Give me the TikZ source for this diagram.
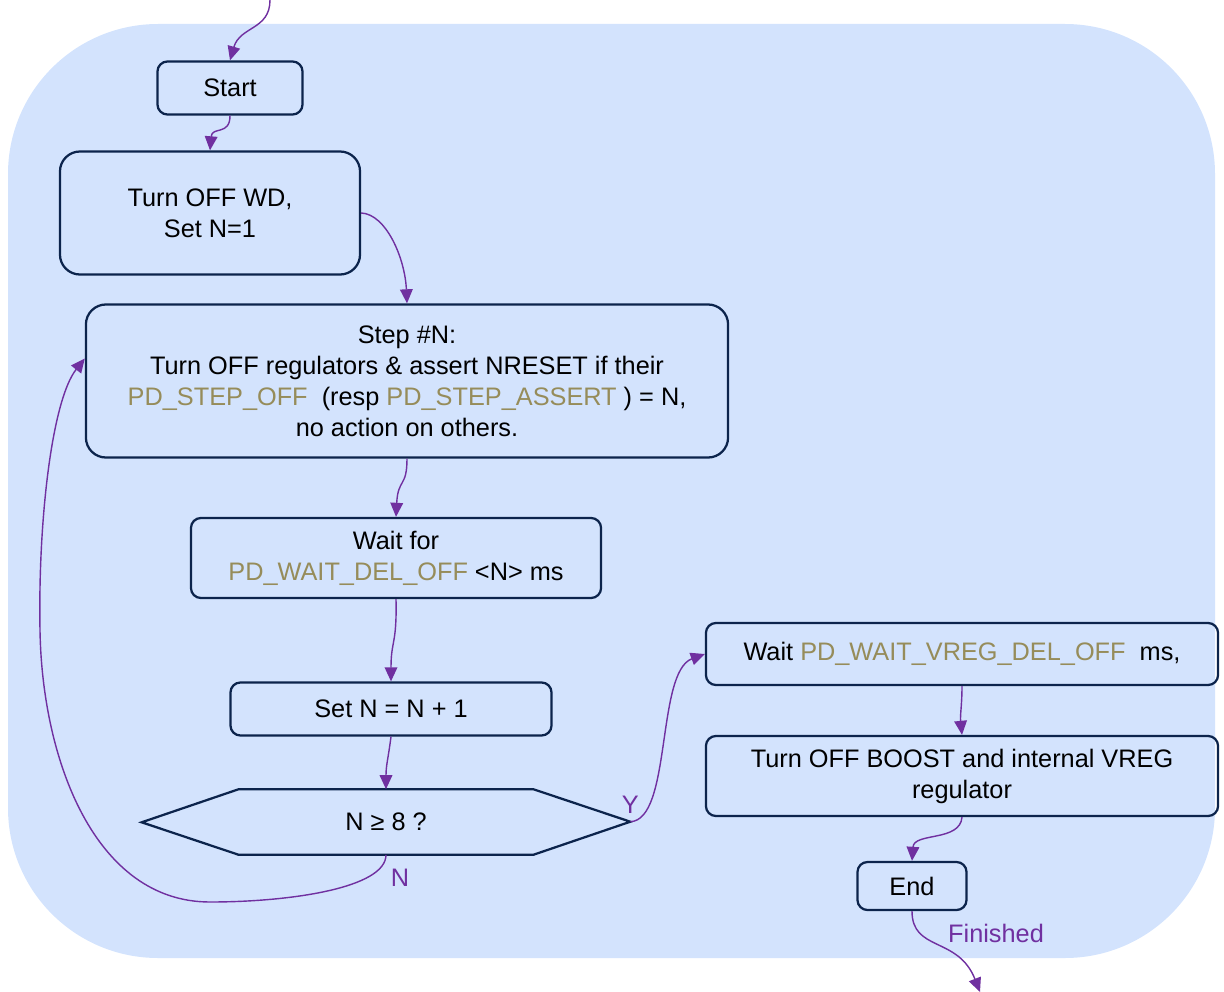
\documentclass[tikz,border=0pt]{standalone}
\usepackage{fontspec}
\setmainfont{Liberation Sans}
\usetikzlibrary{arrows.meta}
\definecolor{bgBlue}{RGB}{211,227,253}
\definecolor{boxLine}{RGB}{12,36,76}
\definecolor{flowPurple}{RGB}{112,48,160}
\definecolor{regOlive}{RGB}{150,140,90}
\tikzstyle{myBox} = [draw=boxLine,line width=1.6pt,rounded corners=0.25cm,align=center,inner sep=0pt]
\tikzstyle{bigBox} = [myBox,rounded corners=0.5cm]
\tikzstyle{myLine} = [draw=flowPurple,line width=1pt,-{Triangle[length=10pt,width=9pt]}]
\tikzstyle{myLabel} = [text=flowPurple]
\newcommand{\reg}[1]{\textcolor{regOlive}{#1}}

\begin{document}
\begin{tikzpicture}[x=0.025cm,y=-0.025cm,font=\fontsize{18}{22}\selectfont]
			\useasboundingbox (0,0) rectangle (1224,992);
			\fill[bgBlue,rounded corners=3.75cm] (8,24) rectangle (1215,958);
			\node[myBox,minimum width=3.625cm,minimum height=1.325cm] (n1) at (230,88) {Start};
			\node[bigBox,minimum width=7.5cm,minimum height=3.075cm] (n2) at (210,213) {Turn OFF WD,\\Set N=1};
			\node[bigBox,minimum width=16.05cm,minimum height=3.825cm] (n3) at (407,381) {Step \#N:\\Turn OFF regulators \& assert NRESET if their\\\reg{PD\_STEP\_OFF}\ \ (resp \reg{PD\_STEP\_ASSERT}\ ) = N,\\no action on others.};
			\node[myBox,minimum width=10.25cm,minimum height=2cm] (n4) at (396,558) {Wait for\\\reg{PD\_WAIT\_DEL\_OFF} <N> ms};
			\node[myBox,minimum width=8.025cm,minimum height=1.325cm] (n5) at (391,709) {Set N = N + 1};
			\node[minimum width=7.35cm,minimum height=1.625cm,inner sep=0pt] (n6) at (386,822) {N ≥ 8 ?};
			\draw[boxLine,line width=1.6pt,line join=miter] (n6.north west) -- (n6.north east) -- ++(97,32.5) coordinate (n6e) -- (n6.south east) -- (n6.south west) -- ++(-97,-32.5) -- cycle;
			\node[myBox,minimum width=12.8cm,minimum height=1.55cm] (n7) at (962,654) {Wait \reg{PD\_WAIT\_VREG\_DEL\_OFF}\ \ ms,};
			\node[myBox,minimum width=12.8cm,minimum height=2cm] (n8) at (962,776) {Turn OFF BOOST and internal VREG\\regulator};
			\node[myBox,minimum width=2.725cm,minimum height=1.2cm] (n9) at (912,886) {End};
			\coordinate (in) at (270,0);
			\coordinate (out) at (980,992);
			% flow
			\draw[myLine] (in) .. controls (270,30) and (240,26) .. (n1.north);
			\draw[myLine] (n1.south) .. controls (230,136) and (212,126) .. (n2.north);
			\draw[myLine] (n2.east) .. controls (386,214) and (405,258) .. (n3.north);
			\draw[myLine] (n3.south) .. controls (407,488) and (398,478) .. (n4.north);
			\draw[myLine] (n4.south) .. controls (397,645) and (391,640) .. (n5.north);
			\draw[myLine] (n5.south) .. controls (388,760) and (386,765) .. (n6.north);
			\draw[myLine] (n6e) .. controls (672,820) and (656,672) .. (n7.west) node[pos=0,myLabel,anchor=south,yshift=2pt] {Y};
			\draw[myLine] (n6.south) .. controls (386,888) and (290,902) .. (210,902) .. controls (95,902) and (42,760) .. (40,630) .. controls (38,520) and (52,400) .. (n3.176);
			\node[myLabel] (lN) at (400,878) {N};
			\draw[myLine] (n7.south) .. controls (962,705) and (960,715) .. (n8.north);
			\draw[myLine] (n8.south) .. controls (960,842) and (914,832) .. (n9.north);
			\draw[myLine] (n9.south) .. controls (912,952) and (958,936) .. (out);
			\node[myLabel] (lF) at (996,933) {Finished};
		\end{tikzpicture}
\end{document}
